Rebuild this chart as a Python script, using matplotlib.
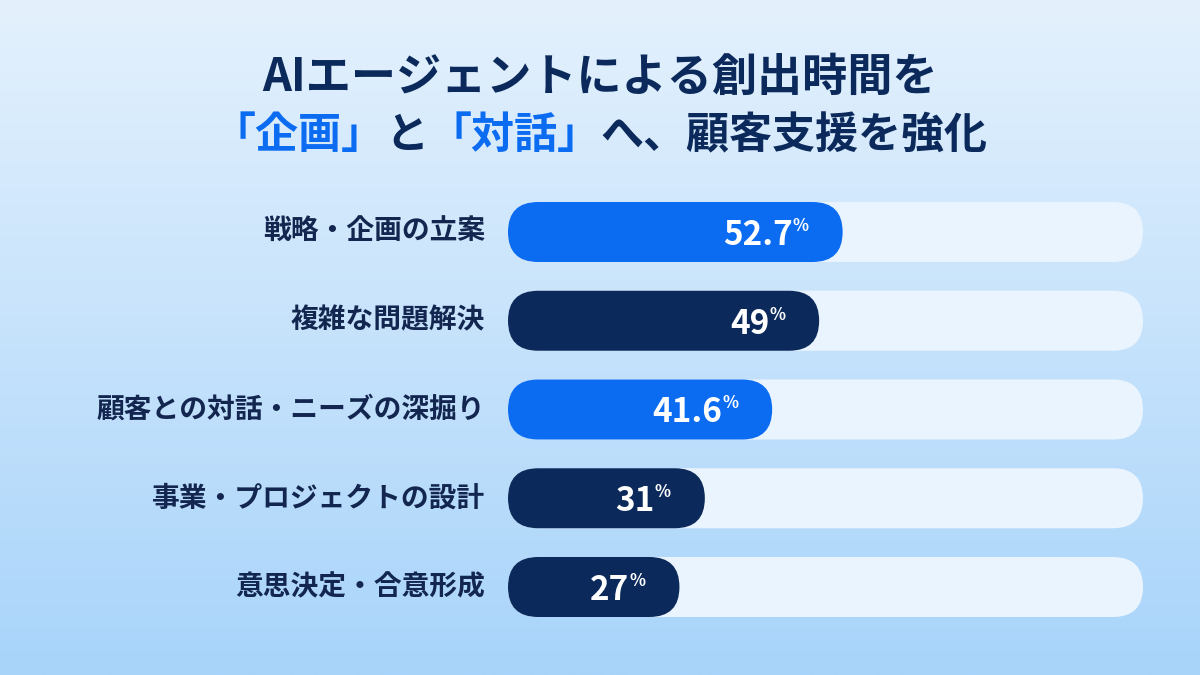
import matplotlib
matplotlib.use('Agg')
import matplotlib.pyplot as plt
import numpy as np
from matplotlib.patches import FancyBboxPatch
from matplotlib.colors import LinearSegmentedColormap

plt.rcParams['font.family'] = ['Noto Sans CJK JP', 'DejaVu Sans']

categories = ['戦略・企画の立案', '複雑な問題解決', '顧客との対話・ニーズの深掘り',
              '事業・プロジェクトの設計', '意思決定・合意形成']
values = [52.7, 49, 41.6, 31, 27]
value_labels = ['52.7', '49', '41.6', '31', '27']
BLUE = '#0B6CF2'
NAVY = '#0B2A5B'
bar_colors = [BLUE, NAVY, BLUE, NAVY, NAVY]
title_line1 = 'AIエージェントによる創出時間を'
title_line2 = [('「企画」', BLUE), ('と', NAVY), ('「対話」', BLUE), ('へ、顧客支援を強化', NAVY)]

W, H = 1200, 675
fig = plt.figure(figsize=(12, 6.75), dpi=100)

# background gradient
bg = fig.add_axes([0, 0, 1, 1])
bg.axis('off')
grad = np.linspace(0, 1, 256).reshape(-1, 1)
cmap = LinearSegmentedColormap.from_list('bg', ['#E4F1FD', '#A8D4FA'])
bg.imshow(grad, aspect='auto', cmap=cmap, extent=[0, 1, 0, 1], origin='upper')
bg.set_xlim(0, 1)
bg.set_ylim(0, 1)

# bar axes
x0_px, x1_px = 508, 1143
row_px = 88.75
top_px = 232 - row_px / 2
bot_px = 587 + row_px / 2
ax = fig.add_axes([x0_px / W, 1 - bot_px / H, (x1_px - x0_px) / W, (bot_px - top_px) / H])
ax.set_xlim(0, 100)
ax.set_ylim(len(categories) - 0.5, -0.5)
ax.axis('off')

px_x = (x1_px - x0_px) / 100.0
bar_h_px = 60
bar_h = bar_h_px / row_px
r = (bar_h_px / 2) / px_x
ma = px_x / row_px

for i, (cat, v, lab, c) in enumerate(zip(categories, values, value_labels, bar_colors)):
    track = FancyBboxPatch((0, i - bar_h / 2), 100, bar_h,
                           boxstyle=f'round,pad=0,rounding_size={r}',
                           mutation_aspect=ma, fc='#EAF4FE', ec='none', zorder=1)
    ax.add_patch(track)
    bar = FancyBboxPatch((0, i - bar_h / 2), v, bar_h,
                         boxstyle=f'round,pad=0,rounding_size={r}',
                         mutation_aspect=ma, fc=c, ec='none', zorder=2)
    ax.add_patch(bar)
    ax.annotate(lab, xy=(v, i), xytext=(-50, -13), textcoords='offset pixels',
                ha='right', va='baseline', color='white', fontsize=24,
                fontweight='bold', zorder=3)
    ax.annotate('%', xy=(v, i), xytext=(-50, 1), textcoords='offset pixels',
                ha='left', va='baseline', color='white', fontsize=12,
                fontweight='bold', zorder=3)
    ax.annotate(cat, xy=(0, i), xytext=(-23, 0), textcoords='offset pixels',
                ha='right', va='center', color='#13264F', fontsize=20,
                fontweight='bold', zorder=3)

# title
fig.text(0.5, 1 - 78 / H, title_line1, ha='center', va='center', fontsize=32.5,
         fontweight='bold', color=NAVY)

renderer = fig.canvas.get_renderer()
tmp = []
widths = []
for s, c in title_line2:
    t = fig.text(0, 0, s, fontsize=31, fontweight='bold', color=c)
    bb = t.get_window_extent(renderer=renderer)
    widths.append(bb.width)
    tmp.append(t)
total = sum(widths)
x = W / 2 - total / 2
for t, w in zip(tmp, widths):
    t.set_position((x / W, 1 - 135 / H))
    t.set_va('center')
    x += w

fig.savefig('out.png', dpi=100)
